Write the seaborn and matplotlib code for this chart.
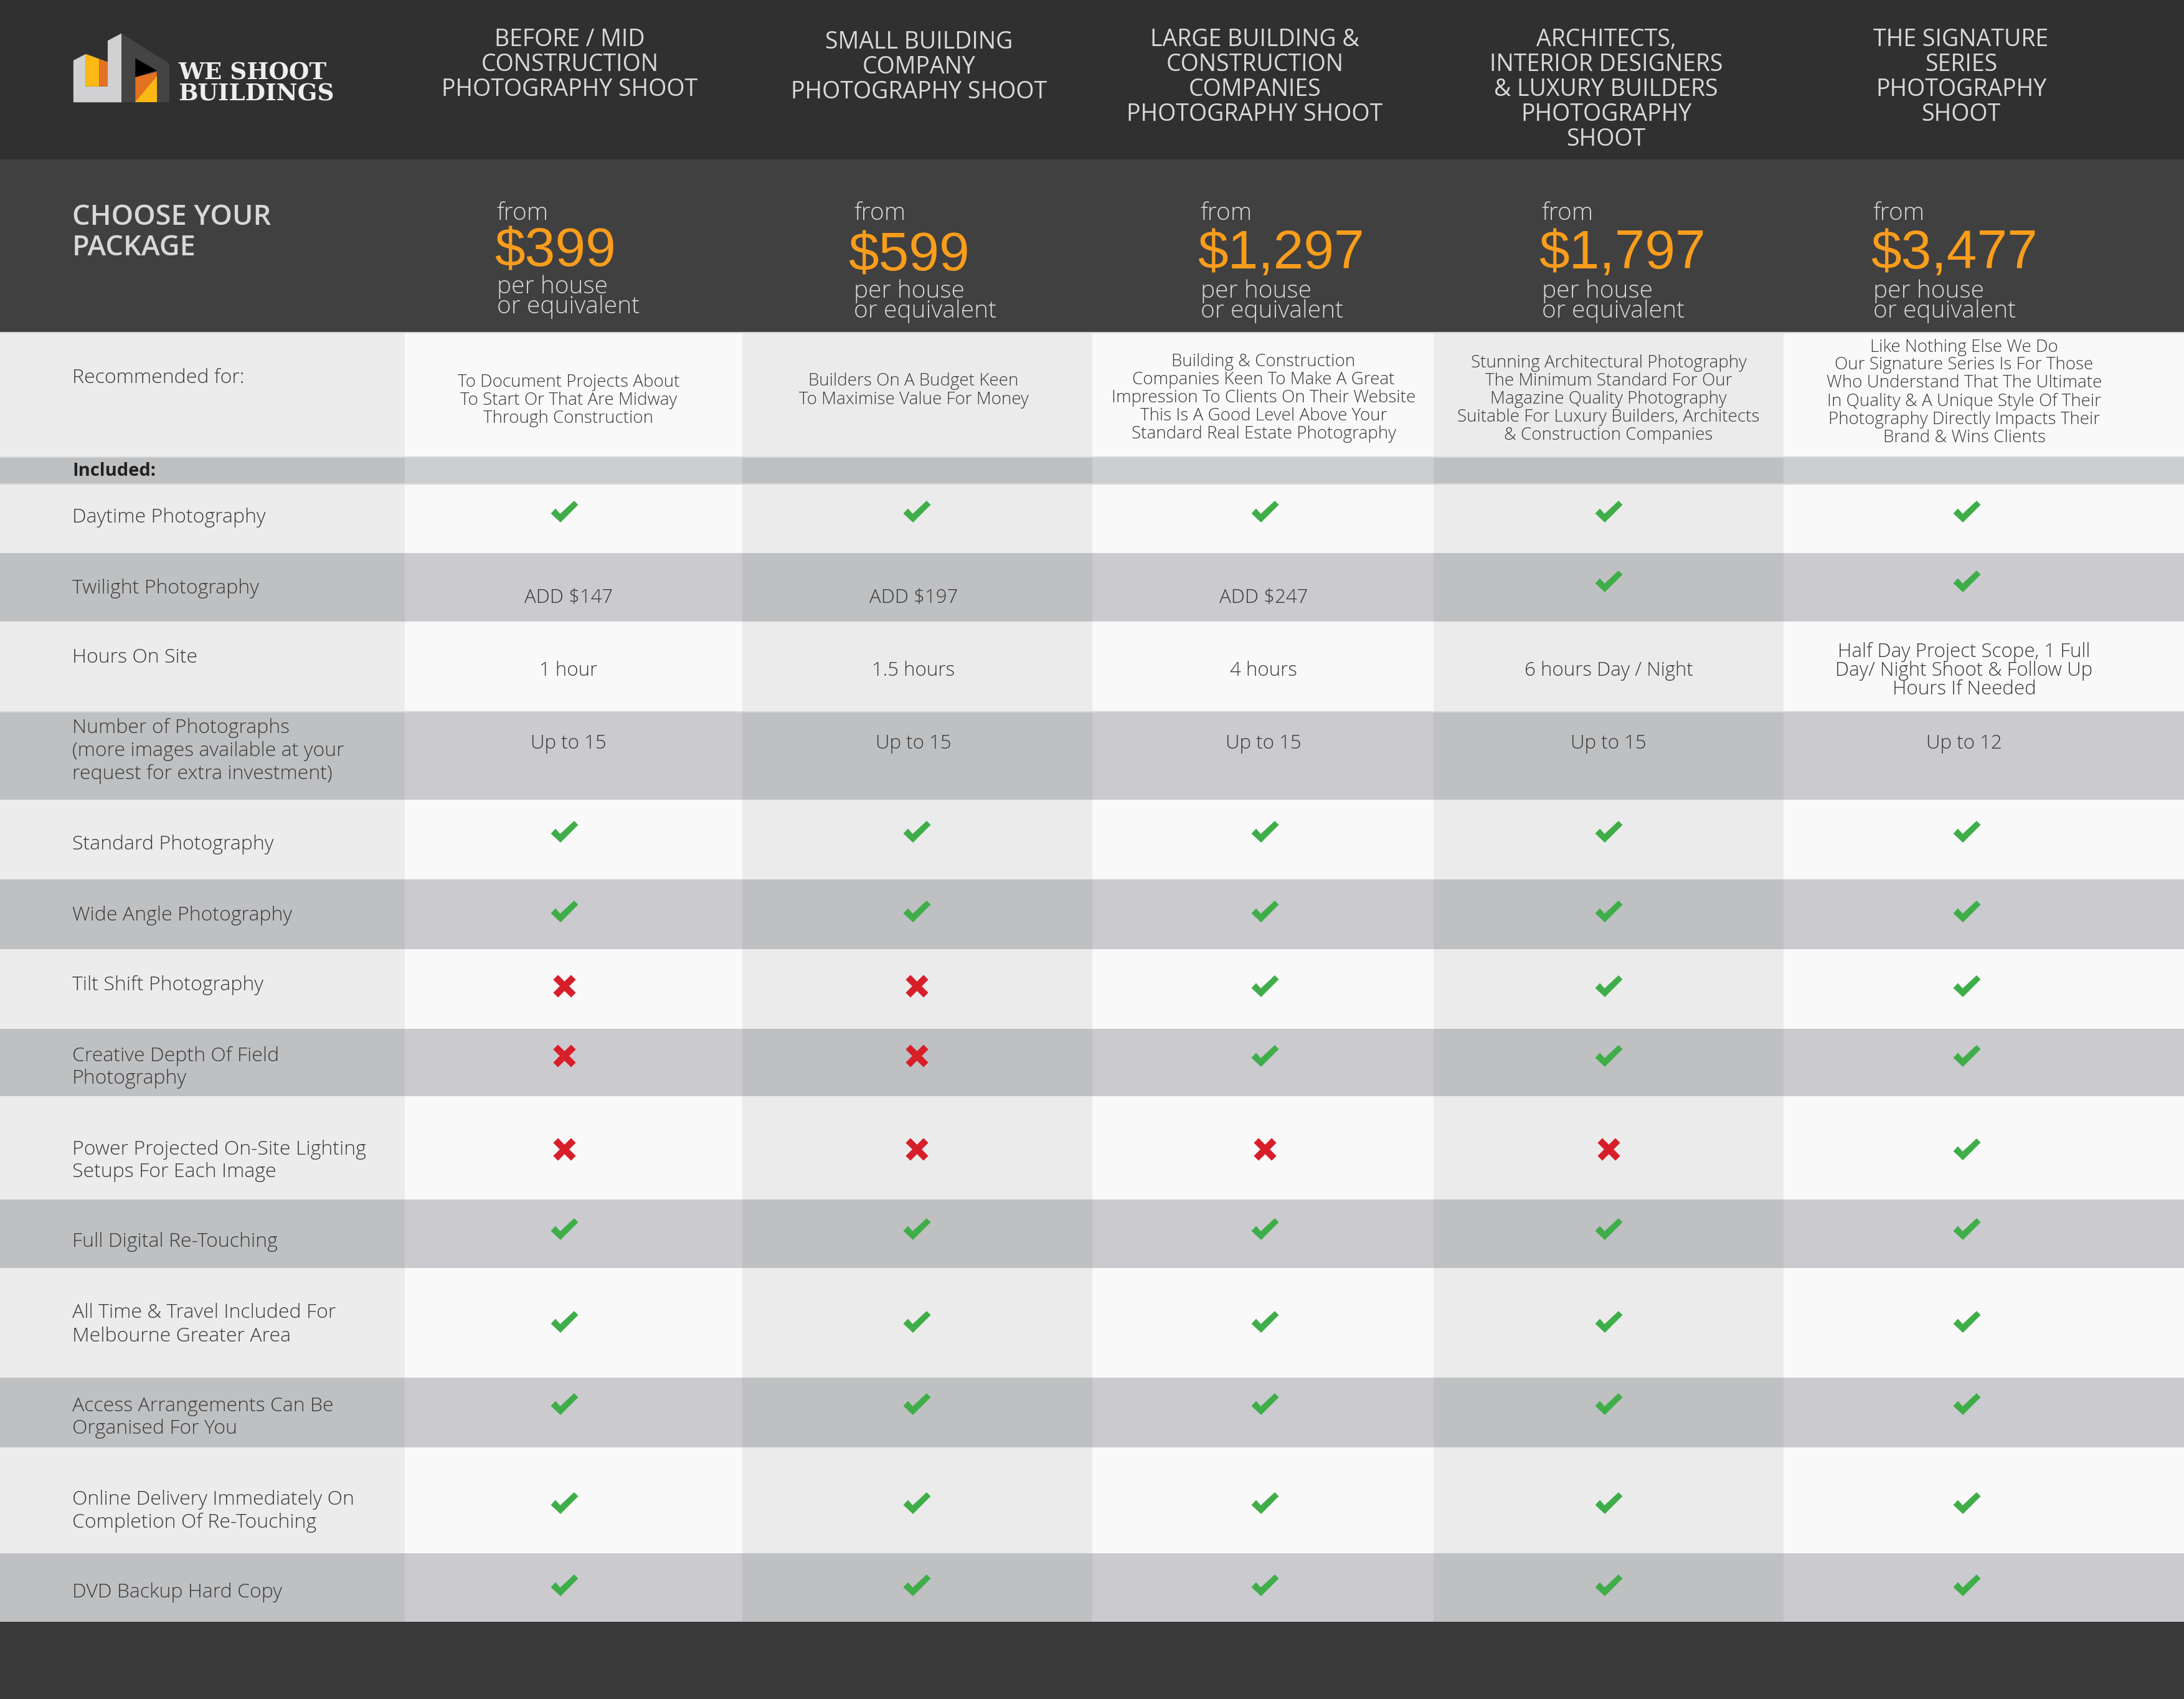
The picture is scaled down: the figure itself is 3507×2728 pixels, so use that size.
import numpy as np
import pandas as pd
import matplotlib
matplotlib.use('Agg')
import matplotlib.pyplot as plt
from matplotlib.colors import ListedColormap
from matplotlib.path import Path
from matplotlib.patches import Polygon
import seaborn as sns

# chart content
packages = [
    ["BEFORE / MID", "CONSTRUCTION", "PHOTOGRAPHY SHOOT"],
    ["SMALL BUILDING", "COMPANY", "PHOTOGRAPHY SHOOT"],
    ["LARGE BUILDING &", "CONSTRUCTION", "COMPANIES", "PHOTOGRAPHY SHOOT"],
    ["ARCHITECTS,", "INTERIOR DESIGNERS", "& LUXURY BUILDERS", "PHOTOGRAPHY", "SHOOT"],
    ["THE SIGNATURE", "SERIES", "PHOTOGRAPHY", "SHOOT"],
]
prices = ["$399", "$599", "$1,297", "$1,797", "$3,477"]
recommended = [
    ["To Document Projects About", "To Start Or That Are Midway", "Through Construction"],
    ["Builders On A Budget Keen", "To Maximise Value For Money"],
    ["Building & Construction", "Companies Keen To Make A Great", "Impression To Clients On Their Website",
     "This Is A Good Level Above Your", "Standard Real Estate Photography"],
    ["Stunning Architectural Photography", "The Minimum Standard For Our", "Magazine Quality Photography",
     "Suitable For Luxury Builders, Architects", "& Construction Companies"],
    ["Like Nothing Else We Do", "Our Signature Series Is For Those", "Who Understand That The Ultimate",
     "In Quality & A Unique Style Of Their", "Photography Directly Impacts Their", "Brand & Wins Clients"],
]
feature_labels = [
    ["Daytime Photography"],
    ["Twilight Photography"],
    ["Hours On Site"],
    ["Number of Photographs", "(more images available at your", "request for extra investment)"],
    ["Standard Photography"],
    ["Wide Angle Photography"],
    ["Tilt Shift Photography"],
    ["Creative Depth Of Field", "Photography"],
    ["Power Projected On-Site Lighting", "Setups For Each Image"],
    ["Full Digital Re-Touching"],
    ["All Time & Travel Included For", "Melbourne Greater Area"],
    ["Access Arrangements Can Be", "Organised For You"],
    ["Online Delivery Immediately On", "Completion Of Re-Touching"],
    ["DVD Backup Hard Copy"],
]
# yes / no / text per package
feature_values = [
    ["yes", "yes", "yes", "yes", "yes"],
    ["ADD $147", "ADD $197", "ADD $247", "yes", "yes"],
    ["1 hour", "1.5 hours", "4 hours", "6 hours Day / Night",
     "Half Day Project Scope, 1 Full\nDay/ Night Shoot & Follow Up\nHours If Needed"],
    ["Up to 15", "Up to 15", "Up to 15", "Up to 15", "Up to 12"],
    ["yes", "yes", "yes", "yes", "yes"],
    ["yes", "yes", "yes", "yes", "yes"],
    ["no", "no", "yes", "yes", "yes"],
    ["no", "no", "yes", "yes", "yes"],
    ["no", "no", "no", "no", "yes"],
    ["yes", "yes", "yes", "yes", "yes"],
    ["yes", "yes", "yes", "yes", "yes"],
    ["yes", "yes", "yes", "yes", "yes"],
    ["yes", "yes", "yes", "yes", "yes"],
    ["yes", "yes", "yes", "yes", "yes"],
]

# layout, in reference pixels
col_edges = [0, 650, 1192, 1754, 2302, 2864, 3507]
row_edges = [0, 255, 534, 734, 777, 888, 998, 1143, 1284, 1411, 1523, 1651, 1760, 1926,
             2035, 2212, 2324, 2494, 2603, 2728]
row_kinds = ["head", "band", "light", "incl", "light", "dark", "light", "dark", "light", "dark",
             "light", "dark", "light", "dark", "light", "dark", "light", "dark", "foot"]
feature_label_y = [828, 942, 1053, 1203, 1353, 1467, 1579, 1711, 1861, 1991, 2124, 2273, 2423, 2554]
mark_y = [821, 933, 1074, 1190, 1335, 1463, 1583, 1695, 1845, 1973, 2122, 2254, 2413, 2545]
cell_text_y = {1: 957, 2: 1074, 3: 1191}
mark_x = [906, 1472, 2031, 2583, 3158]
text_x = [913, 1467, 2029, 2583, 3154]
head_x = [915, 1476, 2015, 2579, 3149]
head_y = [101, 105, 121, 141, 121]
rec_y = [640, 624, 636, 638, 627]
small_x = [798, 1371, 1928, 2476, 3008]
price_x = [794, 1362, 1923, 2471, 3004]
price_y = [402, 409, 406, 406, 406]
per_y = [458, 465, 465, 465, 465]
equiv_y = [490, 497, 497, 497, 497]
rule_y = [534, 734, 777, 1143]

shades = ["#303030", "#404040", "#3a3a3a", "#ececec", "#f9f9f9", "#ebebeb",
          "#bfc0c2", "#cacacf", "#ccced0"]
light_codes = [3, 4, 5, 4, 5, 4]
dark_codes = [6, 7, 6, 7, 6, 7]
incl_codes = [6, 8, 6, 8, 6, 8]

sns.set_theme(style="white")
plt.rcParams['font.family'] = ['Open Sans', 'DejaVu Sans']

U = 2  # heatmap cell size in pixels
code_rows = []
for kind in row_kinds:
    code_rows.append({"head": [0] * 6, "band": [1] * 6, "foot": [2] * 6, "light": light_codes,
                      "dark": dark_codes, "incl": incl_codes}[kind])
codes = np.array(code_rows)
codes = np.repeat(codes, np.diff(np.round(np.array(row_edges) / U).astype(int)), axis=0)
codes = np.repeat(codes, np.diff(np.round(np.array(col_edges) / U).astype(int)), axis=1)

fig = plt.figure(figsize=(35.07, 27.28), dpi=100)
ax = fig.add_axes([0, 0, 1, 1])
sns.heatmap(codes, cmap=ListedColormap(shades), vmin=-0.5, vmax=len(shades) - 0.5, cbar=False,
            xticklabels=False, yticklabels=False, ax=ax)
ax.hlines([y / U for y in rule_y], 0, 3507 / U, color="#d6d7d9", linewidth=1.5)


def put(x, y, s, **kw):
    kw.setdefault('va', 'center')
    kw.setdefault('ha', 'left')
    kw.setdefault('color', '#3a3a3a')
    kw.setdefault('fontsize', 23)
    kw.setdefault('fontweight', 300)
    ax.text(x / U, (y + 3) / U, s, **kw)


def stack(x, y, lines, step, **kw):
    top = y - step * (len(lines) - 1) / 2
    for i, line in enumerate(lines):
        put(x, top + i * step, line, **kw)


# logo
def poly(pts, color):
    ax.add_patch(Polygon([(px / 1.3067 / U, py / 1.96 / U) for px, py in pts], closed=True,
                         facecolor=color, edgecolor='none'))


poly([(154, 190), (180, 170), (180, 272), (226, 272), (226, 128), (255, 105), (255, 322), (154, 322)], "#d1d1d3")
poly([(255, 105), (355, 200), (355, 322), (255, 322)], "#444444")
poly([(180, 170), (208, 185), (208, 272), (180, 272)], "#fdb913")
poly([(208, 185), (226, 195), (226, 272), (208, 272)], "#e37222")
poly([(284, 183), (329, 222), (284, 243)], "#000000")
poly([(284, 243), (329, 226), (329, 240), (284, 322)], "#e37222")
poly([(329, 240), (329, 322), (284, 322)], "#fdb913")
put(286, 114, "WE SHOOT", family='DejaVu Serif', fontweight='bold', fontsize=26.8, color='#eeeeee')
put(286, 149, "BUILDINGS", family='DejaVu Serif', fontweight='bold', fontsize=26.8, color='#eeeeee')

# header rows
stack(116, 371, ["CHOOSE YOUR", "PACKAGE"], 49, color='#d8d8d8', fontsize=32.5, fontweight=600)
for i in range(5):
    stack(head_x[i], head_y[i], packages[i], 40, ha='center', color='#d9d9d9', fontsize=27, fontweight=500)
    put(small_x[i], 340, "from", color='#d9d9d9', fontsize=28)
    put(price_x[i], price_y[i], prices[i], family='Liberation Sans', color='#f99d1c', fontsize=63, fontweight='normal')
    put(small_x[i], per_y[i], "per house", color='#d9d9d9', fontsize=28)
    put(small_x[i], equiv_y[i], "or equivalent", color='#d9d9d9', fontsize=28)
    stack(text_x[i], rec_y[i], recommended[i], 29, ha='center', fontsize=20)

put(116, 604, "Recommended for:")
put(116, 754, "Included:", fontweight=700, color='#222222', fontsize=21)

for y, lines in zip(feature_label_y, feature_labels):
    stack(116, y, lines, 37)

# cells
rows = []
for r, vals in enumerate(feature_values):
    for c, v in enumerate(vals):
        rows.append({"row": r, "col": c, "value": v, "x": mark_x[c] / U, "y": mark_y[r] / U})
cells = pd.DataFrame(rows)

check = Path([(-22, -3), (-14.5, 5), (-7, -3.5), (15.5, 17.5), (22, 11), (-6.5, -17.5), (-22, -3)], closed=True)
cross = Path([(-19, 11), (-11, 19), (0, 8), (11, 19), (19, 11), (8, 0), (19, -11), (11, -19), (0, -8),
              (-11, -19), (-19, -11), (-8, 0), (-19, 11)], closed=True)
sns.scatterplot(data=cells[cells.value == "yes"], x="x", y="y", marker=check, s=1000, color="#3fae49",
                linewidth=0, ax=ax, legend=False)
sns.scatterplot(data=cells[cells.value == "no"], x="x", y="y", marker=cross, s=680, color="#d71f2a",
                linewidth=0, ax=ax, legend=False)
ax.set_xlim(0, 3507 / U)
ax.set_ylim(2728 / U, 0)
ax.axis('off')

for _, cell in cells[~cells.value.isin(["yes", "no"])].iterrows():
    stack(text_x[cell.col], cell_text_y[cell.row], cell.value.split("\n"), 30, ha='center', fontsize=22.5)

fig.savefig("out.png", dpi=100)
